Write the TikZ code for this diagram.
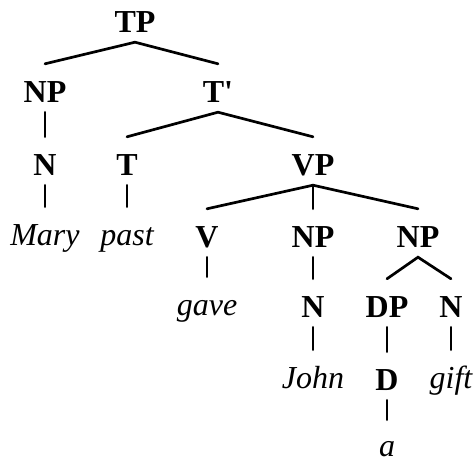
\documentclass[tikz,border=0pt]{standalone}
\usepackage{fontspec}
\setmainfont{Liberation Serif}
\begin{document}
\begin{tikzpicture}[x=1pt,y=-1pt,
  lab/.style={anchor=base,inner sep=0pt,text height=38pt,text depth=10pt,
    font=\fontsize{32}{38}\selectfont\bfseries},
  word/.style={anchor=base,inner sep=0pt,text height=38pt,text depth=10pt,
    font=\fontsize{32}{38}\selectfont\itshape},
  br/.style={line width=2.7pt,line cap=round}]
\useasboundingbox (0,0) rectangle (475,464);
\node[lab] (TP) at (135,32) {TP};
\node[lab] (NP1) at (45,102) {NP};
\node[lab] (Tbar) at (218,102) {T\textquotesingle};
\node[lab] (N1) at (45,175) {N};
\node[lab] (T) at (127,175) {T};
\node[lab] (VP) at (313,175) {VP};
\node[word] (Mary) at (45,245) {Mary};
\node[word] (past) at (127,245) {past};
\node[lab] (V) at (207,247) {V};
\node[lab] (NP2) at (313,247) {NP};
\node[lab] (NP3) at (418,247) {NP};
\node[word] (gave) at (207,315) {gave};
\node[lab] (N2) at (313,317) {N};
\node[lab] (DP) at (387,317) {DP};
\node[lab] (N3) at (451,317) {N};
\node[word] (John) at (313,388) {John};
\node[lab] (D) at (387,390) {D};
\node[word] (gift) at (451,388) {gift};
\node[word,text height=36pt,text depth=0pt] (a) at (387,456) {a};
\draw[br] (NP1.north) -- (TP.south) -- (Tbar.north);
\draw[br] (NP1.south) -- (N1.north);
\draw[br] (N1.south) -- (Mary.north);
\draw[br] (T.north) -- (Tbar.south) -- (VP.north);
\draw[br] (T.south) -- (past.north);
\draw[br] (V.north) -- (VP.south) -- (NP3.north);
\draw[br] (VP.south) -- (NP2.north);
\draw[br] (V.south) -- (gave.north);
\draw[br] (NP2.south) -- (N2.north);
\draw[br] (N2.south) -- (John.north);
\draw[br] (DP.north) -- (NP3.south) -- (N3.north);
\draw[br] (DP.south) -- (D.north);
\draw[br] (D.south) -- (a.north);
\draw[br] (N3.south) -- (gift.north);
\end{tikzpicture}
\end{document}
